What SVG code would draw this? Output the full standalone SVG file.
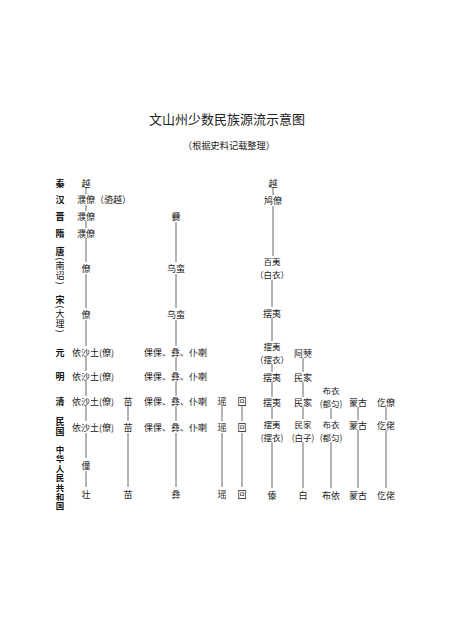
<svg xmlns="http://www.w3.org/2000/svg" width="450" height="630" viewBox="0 0 450 630">
<style>
text{font-family:"Noto Sans CJK SC","Noto Sans CJK JP",sans-serif;fill:#222;dominant-baseline:central}
.t{font-size:9px;text-anchor:middle}
.d{font-size:8.5px;text-anchor:middle}
.s{font-size:9px;text-anchor:start}
.e{font-size:9px;text-anchor:middle;font-weight:bold;fill:#111}
.v{font-size:9px;fill:#111;writing-mode:vertical-rl;letter-spacing:1px}
.b{font-weight:bold}
.ttl{font-size:13px;text-anchor:middle}
.sub{font-size:9.2px;text-anchor:middle}
#connectors line{stroke:#444;stroke-width:0.8}
</style>
<rect width="450" height="630" fill="#fff"/>
<g id="title">
<text class="ttl" x="227" y="118">文山州少数民族源流示意图</text>
<text class="sub" x="229" y="145">（根据史料记载整理）</text>
</g>
<g id="eras">
<text class="e" x="60" y="183">秦</text>
<text class="e" x="60" y="199">汉</text>
<text class="e" x="60" y="216">晋</text>
<text class="e" x="60" y="233">隋</text>
<text class="v" x="60" y="247.5"><tspan class="b">唐</tspan>(南诏)</text>
<text class="v" x="60" y="295.5"><tspan class="b">宋</tspan>(大理)</text>
<text class="e" x="60" y="352">元</text>
<text class="e" x="60" y="376">明</text>
<text class="e" x="60" y="401">清</text>
<text class="v b" x="60" y="417.5">民国</text>
<text class="v b" x="60" y="445.5" style="font-size:8.5px;letter-spacing:0.9px">中华人民共和国</text>
</g>
<g id="zhuang">
<text class="t" x="86" y="183">越</text>
<text class="s" x="77" y="199">濮僚（骆越）</text>
<text class="t" x="86" y="216">濮僚</text>
<text class="t" x="86" y="233">濮僚</text>
<text class="t" x="86" y="268">僚</text>
<text class="t" x="86" y="314">僚</text>
<text class="s" x="72" y="352">依沙土(僚)</text>
<text class="s" x="72" y="376">依沙土(僚)</text>
<text class="s" x="72" y="401">依沙土(僚)</text>
<text class="s" x="72" y="427">依沙土(僚)</text>
<text class="t" x="86" y="465">僮</text>
<text class="t" x="86" y="494">壮</text>
</g>
<g id="miao">
<text class="t" x="128" y="401">苗</text>
<text class="t" x="128" y="427">苗</text>
<text class="t" x="128" y="494">苗</text>
</g>
<g id="yi">
<text class="t" x="176" y="216">爨</text>
<text class="t" x="176" y="268">乌蛮</text>
<text class="t" x="176" y="314">乌蛮</text>
<text class="s" x="144" y="352">倮倮、彝、仆喇</text>
<text class="s" x="144" y="376">倮倮、彝、仆喇</text>
<text class="s" x="144" y="401">倮倮、彝、仆喇</text>
<text class="s" x="144" y="427">倮倮、彝、仆喇</text>
<text class="t" x="176" y="494">彝</text>
</g>
<g id="yao">
<text class="t" x="222" y="401">瑶</text>
<text class="t" x="222" y="427">瑶</text>
<text class="t" x="222" y="494">瑶</text>
</g>
<g id="hui">
<text class="t" x="242" y="401">回</text>
<text class="t" x="242" y="427">回</text>
<text class="t" x="242" y="494">回</text>
</g>
<g id="dai">
<text class="t" x="273" y="183">越</text>
<text class="t" x="273" y="200">鸠僚</text>
<text class="d" x="272" y="261.25">百夷</text>
<text class="d" x="272" y="273.75">（白衣）</text>
<text class="t" x="272" y="313">摆夷</text>
<text class="d" x="272" y="346.25">摆夷</text>
<text class="d" x="272" y="358.75">（摆衣）</text>
<text class="t" x="272" y="377">摆夷</text>
<text class="t" x="272" y="402">摆夷</text>
<text class="d" x="272" y="424.25">摆夷</text>
<text class="d" x="272" y="436.75">(摆衣)</text>
<text class="t" x="272" y="495">傣</text>
</g>
<g id="bai">
<text class="t" x="303" y="353">阿僰</text>
<text class="t" x="303" y="377">民家</text>
<text class="t" x="303" y="402">民家</text>
<text class="d" x="303" y="424.25">民家</text>
<text class="d" x="303" y="436.75">(白子)</text>
<text class="t" x="303" y="495">白</text>
</g>
<g id="buyi">
<text class="d" x="331" y="390.25">布衣</text>
<text class="d" x="331" y="402.75">(都匀)</text>
<text class="d" x="331" y="424.25">布衣</text>
<text class="d" x="331" y="436.75">(都匀)</text>
<text class="t" x="331" y="495">布依</text>
</g>
<g id="menggu">
<text class="t" x="358" y="402">蒙古</text>
<text class="t" x="358" y="425">蒙古</text>
<text class="t" x="358" y="495">蒙古</text>
</g>
<g id="gelao">
<text class="t" x="386" y="402">仡僚</text>
<text class="t" x="386" y="425">仡佬</text>
<text class="t" x="386" y="495">仡佬</text>
</g>
<g id="connectors">
<line x1="86" y1="188" x2="86" y2="194"/>
<line x1="86" y1="205" x2="86" y2="211"/>
<line x1="86" y1="221" x2="86" y2="228"/>
<line x1="86" y1="238" x2="86" y2="262"/>
<line x1="86" y1="274" x2="86" y2="308"/>
<line x1="86" y1="320" x2="86" y2="346"/>
<line x1="86" y1="357" x2="86" y2="371"/>
<line x1="86" y1="381" x2="86" y2="396"/>
<line x1="86" y1="406" x2="86" y2="421"/>
<line x1="86" y1="433" x2="86" y2="458"/>
<line x1="86" y1="471" x2="86" y2="487"/>
<line x1="128" y1="406" x2="128" y2="421"/>
<line x1="128" y1="433" x2="128" y2="487"/>
<line x1="176" y1="222" x2="176" y2="262"/>
<line x1="176" y1="274" x2="176" y2="308"/>
<line x1="176" y1="320" x2="176" y2="346"/>
<line x1="176" y1="357" x2="176" y2="371"/>
<line x1="176" y1="381" x2="176" y2="396"/>
<line x1="176" y1="406" x2="176" y2="421"/>
<line x1="176" y1="433" x2="176" y2="487"/>
<line x1="222" y1="406" x2="222" y2="421"/>
<line x1="222" y1="433" x2="222" y2="487"/>
<line x1="242" y1="406" x2="242" y2="421"/>
<line x1="242" y1="433" x2="242" y2="487"/>
<line x1="273" y1="188" x2="273" y2="195"/>
<line x1="273" y1="206" x2="273" y2="256"/>
<line x1="272" y1="280" x2="272" y2="307"/>
<line x1="272" y1="318" x2="272" y2="341"/>
<line x1="272" y1="364" x2="272" y2="372"/>
<line x1="272" y1="382" x2="272" y2="397"/>
<line x1="272" y1="407" x2="272" y2="419"/>
<line x1="272" y1="442" x2="272" y2="488"/>
<line x1="303" y1="358" x2="303" y2="372"/>
<line x1="303" y1="382" x2="303" y2="397"/>
<line x1="303" y1="407" x2="303" y2="419"/>
<line x1="303" y1="442" x2="303" y2="488"/>
<line x1="331" y1="408" x2="331" y2="419"/>
<line x1="331" y1="442" x2="331" y2="488"/>
<line x1="358" y1="407" x2="358" y2="420"/>
<line x1="358" y1="430" x2="358" y2="488"/>
<line x1="386" y1="407" x2="386" y2="420"/>
<line x1="386" y1="430" x2="386" y2="488"/>
</g>
</svg>
